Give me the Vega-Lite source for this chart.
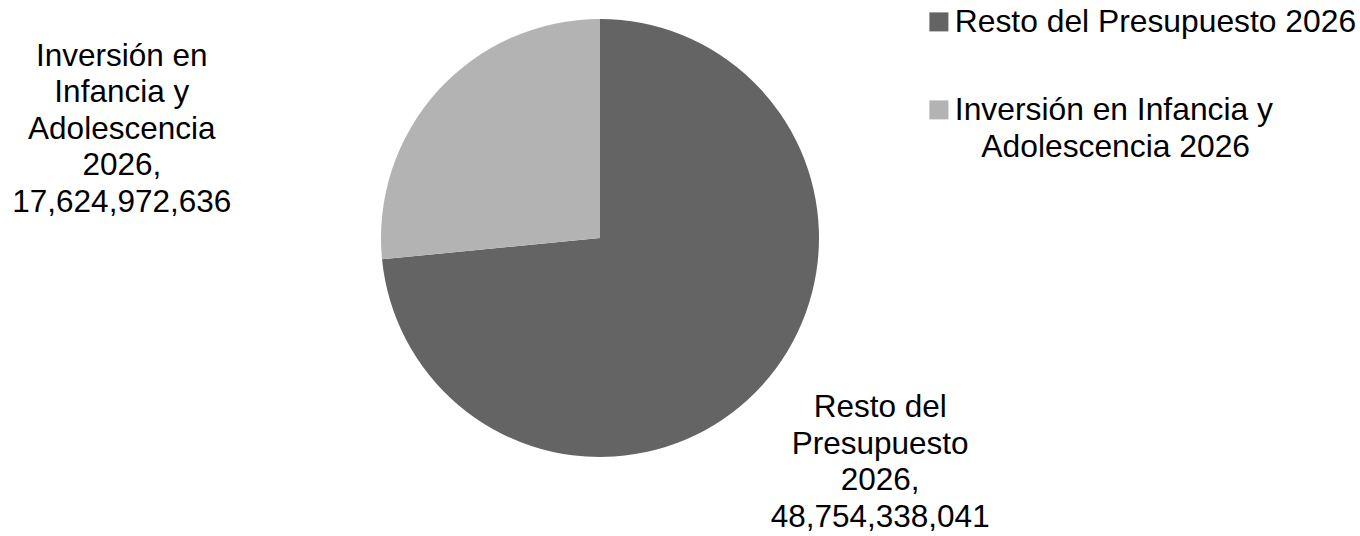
{
  "$schema": "https://vega.github.io/schema/vega-lite/v6.json",
  "width": 1200,
  "height": 476,
  "autosize": {"type": "none"},
  "padding": {"left": 0, "top": 0, "right": 160, "bottom": 60},
  "background": "white",
  "config": {
    "view": {"stroke": null},
    "font": "Liberation Sans",
    "style": {"guide-label": {"lineHeight": 37}}
  },
  "data": {
    "values": [
      {"categoria": "Resto del Presupuesto 2026", "valor": 48754338041, "orden": 1, "etiqueta": "Resto del\nPresupuesto\n2026,\n48,754,338,041"},
      {"categoria": "Inversión en Infancia y Adolescencia 2026", "valor": 17624972636, "orden": 2, "etiqueta": "Inversión en\nInfancia y\nAdolescencia\n2026,\n17,624,972,636"}
    ]
  },
  "layer": [
    {
      "mark": {"type": "arc", "radius": 219, "strokeWidth": 0},
      "encoding": {
        "theta": {"field": "valor", "type": "quantitative", "stack": true},
        "order": {"field": "orden", "type": "quantitative"},
        "color": {
          "field": "categoria",
          "type": "nominal",
          "sort": null,
          "scale": {
            "domain": ["Resto del Presupuesto 2026", "Inversión en Infancia y Adolescencia 2026"],
            "range": ["#646464", "#b3b3b3"]
          },
          "legend": {
            "title": null,
            "orient": "none",
            "legendX": 923,
            "legendY": 6,
            "padding": 0,
            "symbolType": "square",
            "symbolSize": 361,
            "symbolStrokeWidth": 0,
            "labelFont": "Liberation Sans",
            "labelFontSize": 31.8,
            "labelColor": "#000000",
            "labelLimit": 600,
            "labelOffset": 0,
            "rowPadding": 55,
            "labelExpr": "datum.label == 'Inversión en Infancia y Adolescencia 2026' ? ['Inversión en Infancia y', '\u200d\u00a0\u00a0\u00a0Adolescencia 2026'] : datum.label"
          }
        }
      }
    },
    {
      "mark": {"type": "text", "radius": 358, "dx": 15, "dy": -70.5, "fontSize": 31.5, "font": "Liberation Sans", "lineBreak": "\n", "lineHeight": 36.5, "fill": "#000000", "align": "center", "baseline": "middle"},
      "encoding": {
        "theta": {"field": "valor", "type": "quantitative", "stack": true},
        "order": {"field": "orden", "type": "quantitative"},
        "detail": {"field": "categoria", "type": "nominal"},
        "text": {"condition": {"test": "datum.orden == 1", "field": "etiqueta", "type": "nominal"}, "value": ""}
      }
    },
    {
      "mark": {"type": "text", "radius": 300, "dx": -256, "dy": 20.5, "fontSize": 31.5, "font": "Liberation Sans", "lineBreak": "\n", "lineHeight": 36.5, "fill": "#000000", "align": "center", "baseline": "middle"},
      "encoding": {
        "theta": {"field": "valor", "type": "quantitative", "stack": true},
        "order": {"field": "orden", "type": "quantitative"},
        "detail": {"field": "categoria", "type": "nominal"},
        "text": {"condition": {"test": "datum.orden == 2", "field": "etiqueta", "type": "nominal"}, "value": ""}
      }
    }
  ]
}
